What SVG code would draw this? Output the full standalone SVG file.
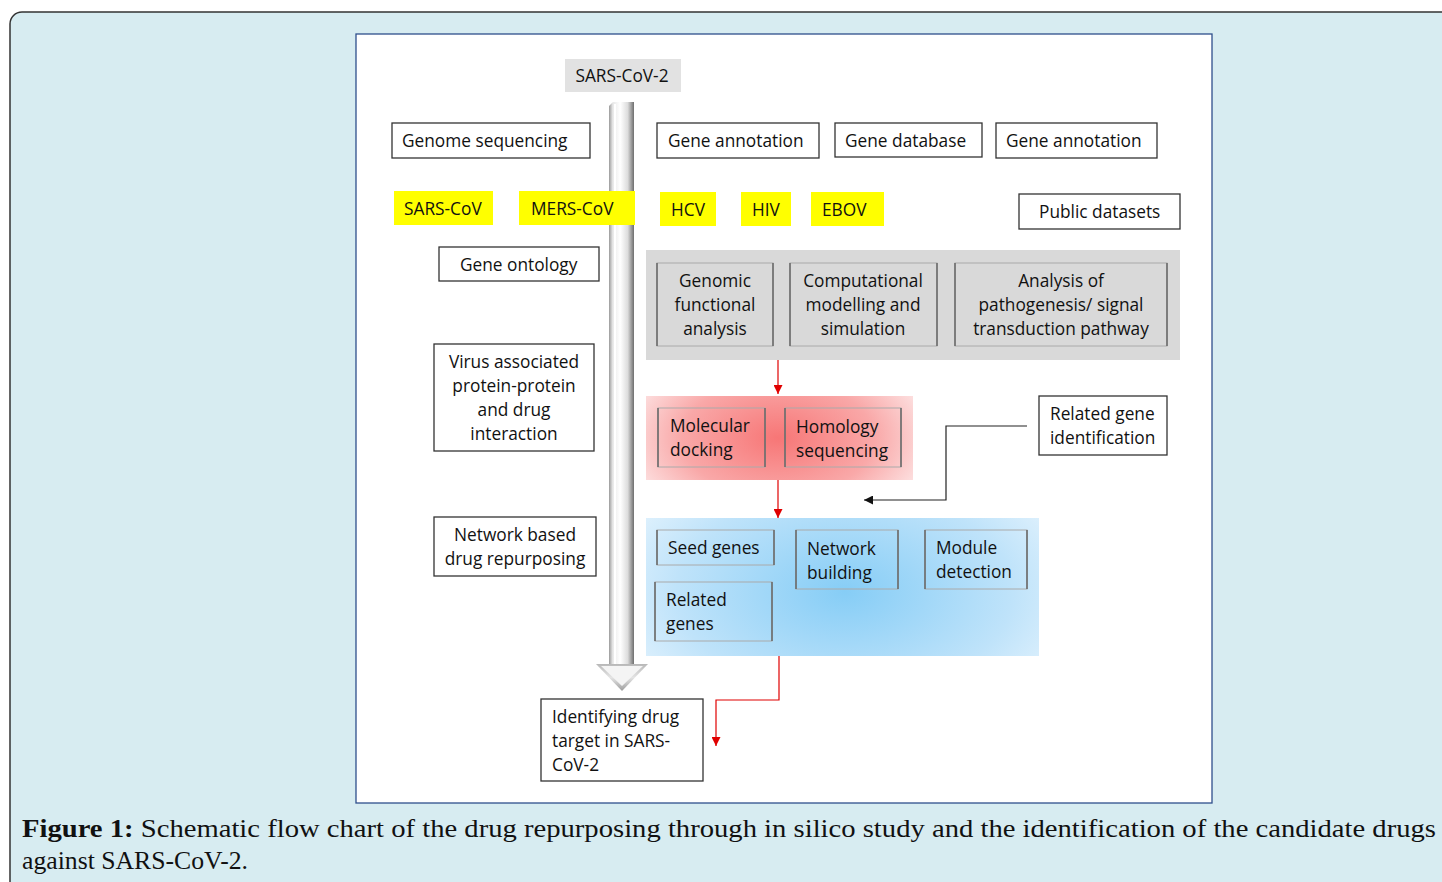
<svg xmlns="http://www.w3.org/2000/svg" width="1442" height="882" viewBox="0 0 1442 882">
<defs>
<style>
.t{font-family:"Open Sans","Liberation Sans",sans-serif;font-size:17.3px;fill:#111}
.c{text-anchor:middle}
.box{fill:#fff;stroke:#333;stroke-width:1.3}
.yel{fill:#ffff00}
.inner{fill:none;stroke:#aaa;stroke-width:1}
.side{stroke:#666;stroke-width:1.5}
.cap{font-family:"Liberation Serif",serif;font-size:26px;fill:#111}
</style>
<radialGradient id="pk" gradientUnits="userSpaceOnUse" cx="778" cy="438" r="160" gradientTransform="matrix(1 0 0 0.6 0 175.2)">
<stop offset="0" stop-color="#f77676"/>
<stop offset="0.6" stop-color="#f9a8a8"/>
<stop offset="1" stop-color="#fde6e6"/>
</radialGradient>
<radialGradient id="bl" gradientUnits="userSpaceOnUse" cx="845" cy="592" r="240" gradientTransform="matrix(1 0 0 0.6 0 236.8)">
<stop offset="0" stop-color="#86cdf6"/>
<stop offset="0.7" stop-color="#bfe3fa"/>
<stop offset="1" stop-color="#dff1fd"/>
</radialGradient>
<linearGradient id="shaft" x1="0" y1="0" x2="1" y2="0">
<stop offset="0" stop-color="#9a9a9a"/>
<stop offset="0.15" stop-color="#e8e8e8"/>
<stop offset="0.45" stop-color="#ffffff"/>
<stop offset="0.75" stop-color="#dcdcdc"/>
<stop offset="1" stop-color="#6e6e6e"/>
</linearGradient>
<linearGradient id="head" x1="0" y1="0" x2="0" y2="1">
<stop offset="0" stop-color="#b8b8b8"/>
<stop offset="0.5" stop-color="#e4e4e4"/>
<stop offset="1" stop-color="#9c9c9c"/>
</linearGradient>
<marker id="ar" viewBox="0 0 10 10" refX="10" refY="5" markerWidth="9" markerHeight="9" markerUnits="userSpaceOnUse" orient="auto">
<path d="M0,0 L10,5 L0,10 z" fill="#e00000"/>
</marker>
<marker id="ak" viewBox="0 0 10 10" refX="10" refY="5" markerWidth="9" markerHeight="9" markerUnits="userSpaceOnUse" orient="auto">
<path d="M0,0 L10,5 L0,10 z" fill="#111"/>
</marker>
</defs>

<rect x="0" y="0" width="1442" height="882" fill="#fff"/>
<rect x="10" y="12" width="1450" height="900" rx="12" fill="#d7ecf1" stroke="#333" stroke-width="1.5"/>
<rect x="356" y="34" width="856" height="769" fill="#fff" stroke="#2e4f8c" stroke-width="1.3"/>

<g id="mainArrow">
<path d="M609,106 L613,102 L634,102 L634,666 L609,666 Z" fill="url(#shaft)"/>
<path d="M596,664 L648,664 L622,691 Z" fill="url(#head)"/>
<path d="M601,666 L643,666 L622,686 Z" fill="#f4f4f4"/>
<line x1="615" y1="104" x2="615" y2="664" stroke="#ffffff" stroke-width="2"/>
</g>

<g id="sars2"><rect x="565" y="59" width="116" height="33" fill="#e2e2e2"/><text class="t c" x="622" y="82">SARS-CoV-2</text></g>

<g id="genomeSeq"><rect class="box" x="392" y="123" width="198" height="35"/><text class="t" x="402" y="147">Genome sequencing</text></g>
<g id="geneAnn1"><rect class="box" x="657" y="123" width="162" height="35"/><text class="t" x="668" y="147">Gene annotation</text></g>
<g id="geneDb"><rect class="box" x="835" y="123" width="147" height="34"/><text class="t" x="845" y="147">Gene database</text></g>
<g id="geneAnn2"><rect class="box" x="996" y="123" width="161" height="35"/><text class="t" x="1006" y="147">Gene annotation</text></g>

<g id="sarscov"><rect class="yel" x="394" y="191" width="99" height="34"/><text class="t" x="404" y="215">SARS-CoV</text></g>
<g id="merscov"><rect class="yel" x="519" y="191" width="116" height="34"/><text class="t" x="531" y="215">MERS-CoV</text></g>
<g id="hcv"><rect class="yel" x="660" y="192" width="56" height="34"/><text class="t" x="671" y="216">HCV</text></g>
<g id="hiv"><rect class="yel" x="741" y="192" width="50" height="34"/><text class="t" x="752" y="216">HIV</text></g>
<g id="ebov"><rect class="yel" x="811" y="192" width="73" height="34"/><text class="t" x="822" y="216">EBOV</text></g>

<g id="publicData"><rect class="box" x="1019" y="194" width="161" height="35"/><text class="t" x="1039" y="218">Public datasets</text></g>
<g id="geneOnt"><rect class="box" x="439" y="247" width="160" height="34"/><text class="t" x="460" y="271">Gene ontology</text></g>

<g id="analysisPanel">
<rect x="646" y="250" width="534" height="110" fill="#d9d9d9"/>
<rect class="inner" x="657" y="263" width="116" height="83"/>
<line class="side" x1="657" y1="263" x2="657" y2="346"/><line class="side" x1="773" y1="263" x2="773" y2="346"/>
<text class="t c" x="715" y="287">Genomic</text><text class="t c" x="715" y="311">functional</text><text class="t c" x="715" y="335">analysis</text>
<rect class="inner" x="790" y="263" width="147" height="83"/>
<line class="side" x1="790" y1="263" x2="790" y2="346"/><line class="side" x1="937" y1="263" x2="937" y2="346"/>
<text class="t c" x="863" y="287">Computational</text><text class="t c" x="863" y="311">modelling and</text><text class="t c" x="863" y="335">simulation</text>
<rect class="inner" x="955" y="263" width="212" height="83"/>
<line class="side" x1="955" y1="263" x2="955" y2="346"/><line class="side" x1="1167" y1="263" x2="1167" y2="346"/>
<text class="t c" x="1061" y="287">Analysis of</text><text class="t c" x="1061" y="311">pathogenesis/ signal</text><text class="t c" x="1061" y="335">transduction pathway</text>
</g>

<g id="virusAssoc"><rect class="box" x="434" y="344" width="160" height="107"/>
<text class="t c" x="514" y="368">Virus associated</text><text class="t c" x="514" y="392">protein-protein</text><text class="t c" x="514" y="416">and drug</text><text class="t c" x="514" y="440">interaction</text></g>

<g id="dockingPanel">
<rect x="646" y="396" width="267" height="84" fill="url(#pk)"/>
<rect class="inner" x="658" y="408" width="107" height="59"/>
<line class="side" x1="658" y1="408" x2="658" y2="467"/><line class="side" x1="765" y1="408" x2="765" y2="467"/>
<text class="t" x="670" y="432">Molecular</text><text class="t" x="670" y="456">docking</text>
<rect class="inner" x="785" y="408" width="116" height="59"/>
<line class="side" x1="785" y1="408" x2="785" y2="467"/><line class="side" x1="901" y1="408" x2="901" y2="467"/>
<text class="t" x="796" y="433">Homology</text><text class="t" x="796" y="457">sequencing</text>
</g>

<g id="relGeneId"><rect class="box" x="1039" y="396" width="128" height="59"/>
<text class="t" x="1050" y="420">Related gene</text><text class="t" x="1050" y="444">identification</text></g>

<g id="networkPanel">
<rect x="646" y="518" width="393" height="138" fill="url(#bl)"/>
<rect class="inner" x="657" y="530" width="117" height="35"/>
<line class="side" x1="657" y1="530" x2="657" y2="565"/><line class="side" x1="774" y1="530" x2="774" y2="565"/>
<text class="t" x="668" y="554">Seed genes</text>
<rect class="inner" x="796" y="530" width="102" height="59"/>
<line class="side" x1="796" y1="530" x2="796" y2="589"/><line class="side" x1="898" y1="530" x2="898" y2="589"/>
<text class="t" x="807" y="555">Network</text><text class="t" x="807" y="579">building</text>
<rect class="inner" x="925" y="530" width="102" height="59"/>
<line class="side" x1="925" y1="530" x2="925" y2="589"/><line class="side" x1="1027" y1="530" x2="1027" y2="589"/>
<text class="t" x="936" y="554">Module</text><text class="t" x="936" y="578">detection</text>
<rect class="inner" x="655" y="582" width="117" height="59"/>
<line class="side" x1="655" y1="582" x2="655" y2="641"/><line class="side" x1="772" y1="582" x2="772" y2="641"/>
<text class="t" x="666" y="606">Related</text><text class="t" x="666" y="630">genes</text>
</g>

<g id="netBased"><rect class="box" x="434" y="517" width="162" height="59"/>
<text class="t c" x="515" y="541">Network based</text><text class="t c" x="515" y="565">drug repurposing</text></g>

<g id="identify"><rect class="box" x="541" y="699" width="162" height="82"/>
<text class="t" x="552" y="723">Identifying drug</text><text class="t" x="552" y="747">target in SARS-</text><text class="t" x="552" y="771">CoV-2</text></g>

<g id="connectors" fill="none">
<line x1="778" y1="360" x2="778" y2="394" stroke="#e00000" stroke-width="1.2" marker-end="url(#ar)"/>
<line x1="778" y1="480" x2="778" y2="518" stroke="#e00000" stroke-width="1.2" marker-end="url(#ar)"/>
<polyline points="779,656 779,700 716,700 716,746" stroke="#e00000" stroke-width="1.2" marker-end="url(#ar)"/>
<polyline points="1027,426 946,426 946,500 864,500" stroke="#222" stroke-width="1.2" marker-end="url(#ak)"/>
</g>

<text class="cap" x="22" y="837" textLength="1414" lengthAdjust="spacingAndGlyphs"><tspan font-weight="bold">Figure 1:</tspan> Schematic flow chart of the drug repurposing through in silico study and the identification of the candidate drugs</text>
<text class="cap" x="22" y="869" textLength="226" lengthAdjust="spacingAndGlyphs">against SARS-CoV-2.</text>
</svg>
